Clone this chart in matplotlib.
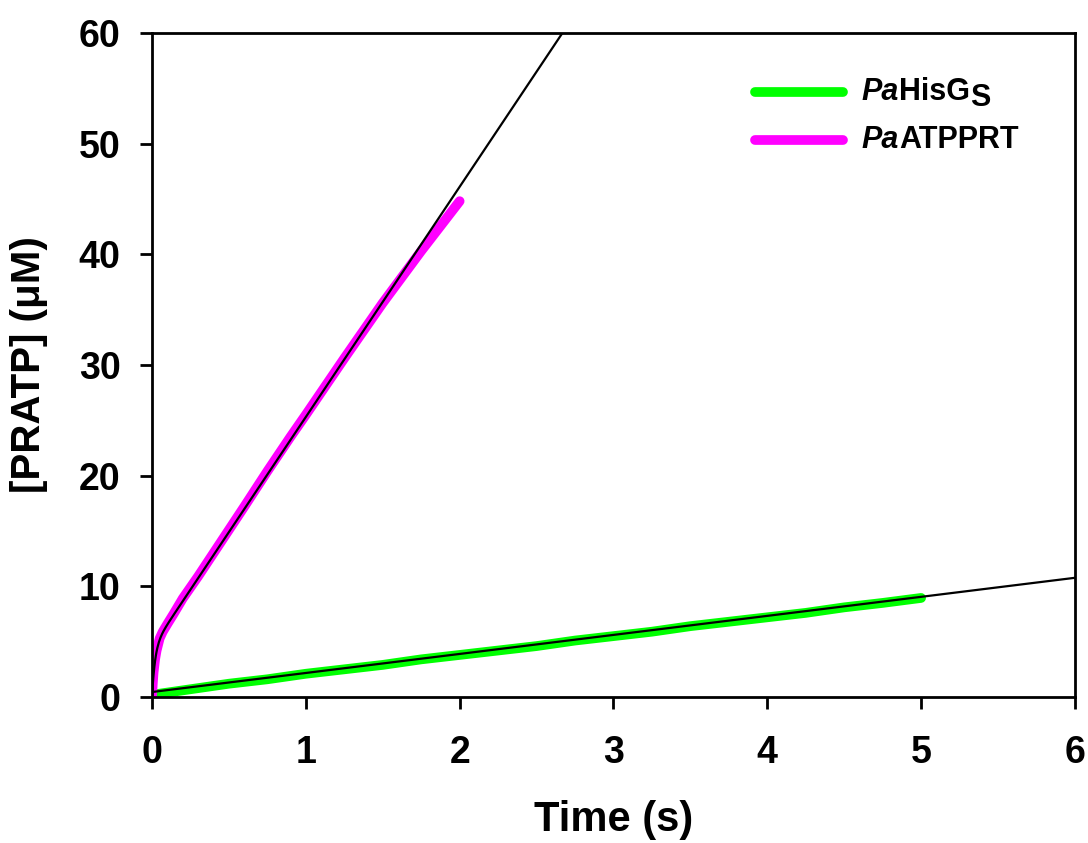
import numpy as np
import matplotlib
matplotlib.use("Agg")
import matplotlib.pyplot as plt
from matplotlib.lines import Line2D

plt.rcParams['font.family'] = ['Liberation Sans', 'DejaVu Sans']
plt.rcParams['font.weight'] = 'bold'

# Observed PRATP formation (time in s, concentration in uM)
his_t = [0.0, 0.25, 0.5, 0.75, 1.0, 1.25, 1.5, 1.75, 2.0, 2.25, 2.5, 2.75, 3.0,
         3.25, 3.5, 3.75, 4.0, 4.25, 4.5, 4.75, 5.0]
his_c = [0.2, 0.7, 1.2, 1.6, 2.1, 2.5, 2.9, 3.4, 3.8, 4.2, 4.6, 5.1, 5.5,
         5.9, 6.4, 6.8, 7.2, 7.6, 8.1, 8.5, 8.95]

atp_t = [0.0, 0.005, 0.01, 0.02, 0.03, 0.05, 0.07, 0.1, 0.14, 0.2, 0.3, 0.4,
         0.5, 0.6, 0.75, 0.9, 1.0, 1.25, 1.5, 1.75, 2.0]
atp_c = [0.0, 1.2, 2.2, 3.4, 4.2, 5.3, 5.9, 6.6, 7.5, 8.9, 10.9, 13.0,
         15.1, 17.2, 20.4, 23.5, 25.5, 30.6, 35.6, 40.3, 44.8]

# Fitted parameters
his_slope, his_icpt = 1.72, 0.45              # linear fit
burst_amp, burst_k, burst_v = 4.5, 50.0, 20.8  # burst + steady-state fit

legend_labels = [("Pa", "HisG", "S"), ("Pa", "ATPPRT", "")]
green, magenta = "#00ff00", "#ff00ff"

fig = plt.figure(figsize=(10.88, 8.43), dpi=100)
ax = fig.add_axes([0.1397, 0.1732, 0.8483, 0.7877])

ax.plot(his_t, his_c, color=green, lw=7, solid_capstyle='round', zorder=2)
ax.plot(atp_t, atp_c, color=magenta, lw=7, solid_capstyle='round', zorder=2)

tf = np.array([0.0, 6.0])
ax.plot(tf, his_icpt + his_slope * tf, color='black', lw=1.6, zorder=3)
tb = np.linspace(0, 3.0, 600)
ax.plot(tb, burst_amp * (1 - np.exp(-burst_k * tb)) + burst_v * tb,
        color='black', lw=1.6, zorder=3)

ax.set_xlim(0, 6)
ax.set_ylim(0, 60)
ax.set_xticks(range(0, 7))
ax.set_yticks(range(0, 61, 10))
for s in ax.spines.values():
    s.set_linewidth(2.0)
ax.tick_params(axis='both', direction='out', length=8.5, width=2.0,
               labelsize=27)
ax.tick_params(axis='x', pad=19)
ax.tick_params(axis='y', pad=14)
for lab in ax.get_xticklabels() + ax.get_yticklabels():
    lab.set_fontweight('bold')

ax.set_xlabel("Time (s)", fontsize=30, fontweight='bold', labelpad=21)
ax.set_ylabel("[PRATP] (μM)", fontsize=29, fontweight='bold', labelpad=22)

# Legend drawn by hand so the species prefix can be italic
rows = [(0.911, green), (0.839, magenta)]
for (yy, col), (pre, name, sub) in zip(rows, legend_labels):
    ax.add_line(Line2D([0.653, 0.749], [yy, yy], transform=ax.transAxes,
                       color=col, lw=7, solid_capstyle='round'))
    t1 = ax.text(0.769, yy, pre, transform=ax.transAxes, fontsize=22,
                 fontweight='bold', style='italic', va='center', ha='left')
    t2 = ax.annotate(name, xy=(1, 0), xycoords=t1, fontsize=22,
                     fontweight='bold', va='bottom', ha='left')
    if sub:
        ax.annotate(sub, xy=(1, 0), xycoords=t2, xytext=(0, -4),
                    textcoords='offset points', fontsize=22,
                    fontweight='bold', va='bottom', ha='left')

fig.savefig("out.png", dpi=100)
